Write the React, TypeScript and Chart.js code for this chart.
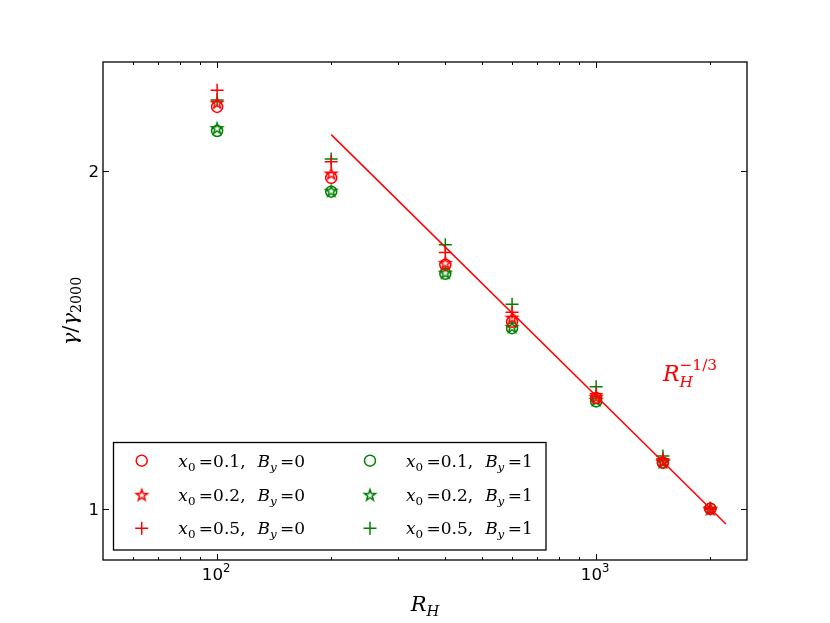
import React, { useEffect, useRef } from 'react';
import { Chart, registerables } from 'chart.js';
Chart.register(...registerables);

const RH = [100, 200, 400, 600, 1000, 1500, 2000];
const redCircle = [2.28, 1.971, 1.649, 1.467, 1.255, 1.099, 1.0];
const redStar = [2.3, 1.989, 1.656, 1.48, 1.258, 1.103, 1.0];
const redPlus = [2.359, 2.037, 1.691, 1.496, 1.266, 1.108, 1.0];
const greenCircle = [2.17, 1.916, 1.619, 1.448, 1.246, 1.099, 1.0];
const greenStar = [2.183, 1.92, 1.623, 1.452, 1.25, 1.1, 1.0];
const greenPlus = [2.312, 2.049, 1.718, 1.521, 1.284, 1.114, 1.0];

const fitX = [200, 2200];
const fitY = [2.154, 0.969];

const xMajorTicks = [100, 1000];
const xMajorExp = ['2', '3'];
const xMinorTicks = [60, 70, 80, 90, 200, 300, 400, 500, 600, 700, 800, 900, 2000];
const yTicks = [1, 2];
const yTickLabels = ['1', '2'];

const legendX0 = ['0.1', '0.2', '0.5'];
const legendBy = ['0', '1'];

const RED = '#ff0000';
const GREEN = '#008000';
const MATH = '"DejaVu Serif", serif';
const SANS = '"DejaVu Sans", sans-serif';

type Seg = { t: string; it?: boolean; s?: number; dy?: number; stack?: boolean };

function drawSegs(
  ctx: CanvasRenderingContext2D,
  segs: Seg[],
  x: number,
  y: number,
  base: number,
  family: string,
  align: 'left' | 'center' | 'right',
  color: string
) {
  ctx.save();
  ctx.fillStyle = color;
  ctx.textBaseline = 'alphabetic';
  ctx.textAlign = 'left';
  const fontOf = (sg: Seg) => `${sg.it ? 'italic ' : ''}${base * (sg.s ?? 1)}px ${family}`;
  const widths = segs.map((sg) => {
    ctx.font = fontOf(sg);
    return ctx.measureText(sg.t).width;
  });
  // compute positions
  const xs: number[] = [];
  let cur = 0;
  let prevStart = 0;
  let prevW = 0;
  segs.forEach((sg, i) => {
    if (sg.stack && i > 0) {
      xs.push(prevStart);
      const end = Math.max(prevStart + prevW, prevStart + widths[i]);
      cur = end;
      prevW = Math.max(prevW, widths[i]);
    } else {
      xs.push(cur);
      prevStart = cur;
      prevW = widths[i];
      cur += widths[i];
    }
  });
  const total = cur;
  const x0 = align === 'left' ? x : align === 'center' ? x - total / 2 : x - total;
  segs.forEach((sg, i) => {
    ctx.font = fontOf(sg);
    ctx.fillText(sg.t, x0 + xs[i], y + (sg.dy ?? 0));
  });
  ctx.restore();
}

function makeStar(color: string) {
  const c = document.createElement('canvas');
  c.width = 16;
  c.height = 16;
  const g = c.getContext('2d')!;
  g.strokeStyle = color;
  g.lineWidth = 1.5;
  g.lineJoin = 'miter';
  g.beginPath();
  for (let i = 0; i < 10; i++) {
    const r = i % 2 ? 2.3 : 5.8;
    const a = -Math.PI / 2 + (i * Math.PI) / 5;
    const px = 8 + r * Math.cos(a);
    const py = 8.6 + r * Math.sin(a);
    if (i === 0) g.moveTo(px, py);
    else g.lineTo(px, py);
  }
  g.closePath();
  g.stroke();
  return c;
}

export default function App() {
  const ref = useRef<HTMLCanvasElement>(null);
  useEffect(() => {
    const redStarImg = makeStar(RED);
    const greenStarImg = makeStar(GREEN);
    const pts = (ys: number[]) => RH.map((x, i) => ({ x, y: ys[i] }));
    const mk = (ys: number[], color: string, style: any, r: number) => ({
      type: 'scatter' as const,
      data: pts(ys),
      showLine: false,
      pointStyle: style,
      pointRadius: r,
      pointHoverRadius: r,
      pointBorderColor: color,
      pointBackgroundColor: 'rgba(0,0,0,0)',
      pointBorderWidth: 1.5,
      borderColor: color,
    });

    const overlay = {
      id: 'overlay',
      afterDraw(chart: any) {
        const ctx: CanvasRenderingContext2D = chart.ctx;
        const a = chart.chartArea;
        const xs = chart.scales.x;
        const ys = chart.scales.y;
        ctx.save();
        // ticks
        ctx.strokeStyle = '#000';
        ctx.lineWidth = 1;
        ctx.beginPath();
        const vt = (v: number, len: number) => {
          const p = Math.round(xs.getPixelForValue(v)) + 0.5;
          ctx.moveTo(p, a.bottom);
          ctx.lineTo(p, a.bottom - len);
          ctx.moveTo(p, a.top);
          ctx.lineTo(p, a.top + len);
        };
        xMajorTicks.forEach((v) => vt(v, 6));
        xMinorTicks.forEach((v) => vt(v, 3));
        yTicks.forEach((v) => {
          const p = Math.round(ys.getPixelForValue(v)) + 0.5;
          ctx.moveTo(a.left, p);
          ctx.lineTo(a.left + 6, p);
          ctx.moveTo(a.right, p);
          ctx.lineTo(a.right - 6, p);
        });
        ctx.stroke();
        // frame
        ctx.lineWidth = 1.3;
        ctx.strokeRect(a.left, a.top, a.right - a.left, a.bottom - a.top);

        // tick labels
        xMajorTicks.forEach((v, i) => {
          const p = xs.getPixelForValue(v);
          drawSegs(ctx, [{ t: '10' }, { t: xMajorExp[i], s: 0.7, dy: -8 }], p - 1, a.bottom + 19.5, 16.7, SANS, 'center', '#000');
        });
        yTicks.forEach((v, i) => {
          const p = ys.getPixelForValue(v);
          drawSegs(ctx, [{ t: yTickLabels[i] }], a.left - 4, p + 6, 16.7, SANS, 'right', '#000');
        });

        // axis labels
        drawSegs(ctx, [{ t: 'R', it: true }, { t: 'H', it: true, s: 0.7, dy: 5 }], (a.left + a.right) / 2, 611, 21, MATH, 'center', '#000');
        ctx.save();
        ctx.translate(77, (a.top + a.bottom) / 2);
        ctx.rotate(-Math.PI / 2);
        drawSegs(
          ctx,
          [{ t: 'γ', it: true }, { t: '/' }, { t: 'γ', it: true }, { t: '2000', s: 0.68, dy: 4 }],
          0,
          0,
          21,
          MATH,
          'center',
          '#000'
        );
        ctx.restore();

        // annotation
        drawSegs(
          ctx,
          [
            { t: 'R', it: true },
            { t: 'H', it: true, s: 0.7, dy: 6 },
            { t: '−1/3', s: 0.7, dy: -11, stack: true },
          ],
          xs.getPixelForValue(1500),
          ys.getPixelForValue(1.3),
          22,
          MATH,
          'left',
          RED
        );

        // legend
        const lx = 113.5, ly = 442.5, lw = 432.5, lh = 107.5;
        ctx.fillStyle = '#fff';
        ctx.fillRect(lx, ly, lw, lh);
        ctx.strokeStyle = '#000';
        ctx.lineWidth = 1.3;
        ctx.strokeRect(lx, ly, lw, lh);
        const rows = [460.7, 494.7, 528.3];
        const cols = [{ mx: 141.7, tx: 178.3 }, { mx: 370, tx: 406 }];
        const colors = [RED, GREEN];
        cols.forEach((c, ci) => {
          const col = colors[ci];
          rows.forEach((ry, ri) => {
            ctx.strokeStyle = col;
            ctx.lineWidth = 1.5;
            if (ri === 0) {
              ctx.beginPath();
              ctx.arc(c.mx, ry, 5.5, 0, Math.PI * 2);
              ctx.stroke();
            } else if (ri === 1) {
              const img = ci === 0 ? redStarImg : greenStarImg;
              ctx.drawImage(img, c.mx - 8, ry - 8);
            } else {
              ctx.beginPath();
              ctx.moveTo(c.mx - 6.5, ry);
              ctx.lineTo(c.mx + 6.5, ry);
              ctx.moveTo(c.mx, ry - 6.5);
              ctx.lineTo(c.mx, ry + 6.5);
              ctx.stroke();
            }
            drawSegs(
              ctx,
              [
                { t: 'x', it: true },
                { t: '0', s: 0.7, dy: 4 },
                { t: '\u2009=' + legendX0[ri] + ',\u2002\u2009' },
                { t: 'B', it: true },
                { t: 'y', it: true, s: 0.7, dy: 4 },
                { t: '\u2009=' + legendBy[ci] },
              ],
              c.tx,
              ry + 6,
              17,
              MATH,
              'left',
              '#000'
            );
          });
        });
        ctx.restore();
      },
    };

    const chart = new Chart(ref.current!, {
      type: 'scatter',
      data: {
        datasets: [
          {
            type: 'line' as const,
            data: fitX.map((x, i) => ({ x, y: fitY[i] })),
            borderColor: RED,
            borderWidth: 1.5,
            pointRadius: 0,
            fill: false,
          } as any,
          mk(redCircle, RED, 'circle', 5.5),
          mk(redStar, RED, redStarImg, 6),
          mk(redPlus, RED, 'cross', 6.5),
          mk(greenCircle, GREEN, 'circle', 5.5),
          mk(greenStar, GREEN, greenStarImg, 6),
          mk(greenPlus, GREEN, 'cross', 6.5),
        ],
      },
      options: {
        animation: false,
        responsive: true,
        maintainAspectRatio: false,
        layout: { padding: { top: 62, right: 83, left: 0, bottom: 0 } },
        plugins: { legend: { display: false }, tooltip: { enabled: false } },
        scales: {
          x: {
            type: 'logarithmic',
            min: 50,
            max: 2500,
            ticks: { display: false },
            grid: { display: false },
            border: { display: false },
            afterFit: (s: any) => {
              s.height = 63;
            },
          },
          y: {
            type: 'logarithmic',
            min: 0.9,
            max: 2.5,
            ticks: { display: false },
            grid: { display: false },
            border: { display: false },
            afterFit: (s: any) => {
              s.width = 103;
            },
          },
        },
      },
      plugins: [overlay],
    });
    return () => chart.destroy();
  }, []);

  return (
    <div style={{ position: 'fixed', left: 0, top: 0, width: 830, height: 623, background: '#fff' }}>
      <canvas ref={ref} />
    </div>
  );
}
